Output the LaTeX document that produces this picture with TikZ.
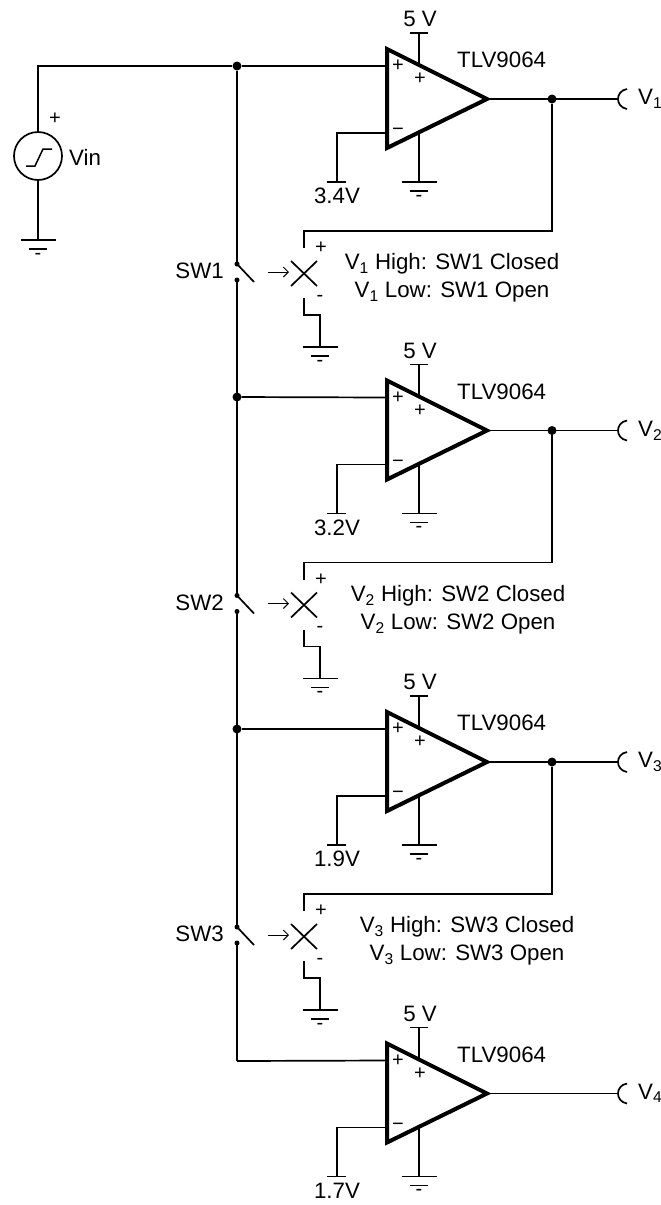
\documentclass[tikz,border=0pt]{standalone}
\usepackage{fontspec}
\setmainfont{Liberation Sans}
\usetikzlibrary{arrows.meta}
\tikzset{
	wire/.style={line width=1.7pt},
	lbl/.style={font=\fontsize{22.3}{28}\selectfont, inner sep=0pt},
	sign/.style={font=\fontsize{20}{20}\selectfont, inner sep=0pt},
	dot/.style={circle, fill=black, inner sep=0pt, minimum size=#1},
	gnd/.pic={
		\draw[wire] (-17.5,0) -- (17.5,0);
		\draw[wire] (-9,9) -- (9,9);
		\node[sign] (-mark) at (0,16) {-};
	}
}
\begin{document}
\begin{tikzpicture}[x=1pt, y=-1pt]
	\useasboundingbox (0,0) rectangle (661,1205);

	% source
	\node[draw, wire, circle, minimum size=48pt, inner sep=0pt] (vin) at (38,156) {};
	\coordinate (vintop) at (38,66);
	\coordinate (vingnd) at (38,240);
	\node[dot=9pt] (rail) at (237,66) {};
	\draw[wire] (vin.north) -- (vintop) -- (rail);
	\draw[wire] (vin.south) -- (vingnd);
	\draw[line width=1.5pt] (26,166) -- (35,166) -- (43,149) -- (52,149);
	\node[sign] (vinplus) at (55,119) {+};
	\node[lbl, anchor=west] (vinlabel) at (69,157) {Vin};
	\pic (gndvin) at (vingnd) {gnd};

	% comparators
	\foreach \n/\vref in {1/3.4V, 2/3.2V, 3/1.9V, 4/1.7V} {
		\begin{scope}[yshift={-331.5pt*(\n-1)}]
			\draw[line width=4pt, miter limit=6] (387,49) -- (487,99) -- (387,148) -- cycle;
			\coordinate (plus\n) at (385,66);
			\coordinate (minus\n) at (385,133);
			\coordinate (tip\n) at (487,99);
			\coordinate (bend\n) at (337,133);
			\coordinate (ref\n) at (337,182);
			\coordinate (suptop\n) at (419,33);
			\coordinate (supbot\n) at (419,65);
			\coordinate (gndtop\n) at (419,132);
			\coordinate (gnd\n) at (419,182);
			\coordinate (cup\n) at (618,99);
			\draw[wire] (minus\n) -- (bend\n) -- (ref\n);
			\draw[wire] (327,182) -- (346,182);
			\draw[wire] (suptop\n) -- (supbot\n);
			\draw[wire] (410,33) -- (428,33);
			\draw[wire] (gndtop\n) -- (gnd\n);
			\draw[wire] (tip\n) -- (cup\n);
			\draw[wire] (627,89) .. controls (615,91) and (615,107) .. (627,109);
			\pic (gndop\n) at (gnd\n) {gnd};
			\node[sign] (inplus\n) at (398,66) {+};
			\node[sign] (supplus\n) at (420,79) {+};
			\node[sign] (inminus\n) at (398,132) {−};
			\node[lbl] (five\n) at (420,19) {5 V};
			\node[lbl] (vref\n) at (337,196) {\vref};
			\node[lbl, anchor=west] (part\n) at (457,60) {TLV9064};
			\node[lbl, anchor=west] (out\n) at (638,99) {V\textsubscript{\n}};
		\end{scope}
	}

	% switches
	\foreach \n/\m/\tx in {1/2/452, 2/3/458, 3/4/467} {
		\begin{scope}[yshift={-331.5pt*(\n-1)}]
			\node[dot=9pt] (tap\n) at (552,99) {};
			\coordinate (fbcorner\n) at (552,231);
			\coordinate (fbleft\n) at (304,231);
			\coordinate (fbend\n) at (304,248);
			\draw[wire] (tap\n) -- (fbcorner\n) -- (fbleft\n) -- (fbend\n);
			\draw[wire] (291,261) -- (317,286) (317,261) -- (291,286);
			\draw[line width=1pt, -{Straight Barb[length=5pt, width=10pt]}] (268,272) -- (289,272);
			\node[sign] (swplus\n) at (321,248) {+};
			\node[sign] (swminus\n) at (320,298) {-};
			\coordinate (lowa\n) at (304,298);
			\coordinate (lowb\n) at (304,315);
			\coordinate (lowc\n) at (320,315);
			\coordinate (lowd\n) at (320,347);
			\draw[wire] (lowa\n) -- (lowb\n) -- (lowc\n) -- (lowd\n);
			\pic (gndsw\n) at (lowd\n) {gnd};
			\node[dot=5pt] (swa\n) at (237,264) {};
			\node[dot=5pt] (swb\n) at (237,280) {};
			\coordinate (blade\n) at (254,282);
			\draw[wire] (swa\n.center) -- (blade\n);
			\node[lbl, anchor=east] (swlabel\n) at (224,271) {SW\n};
			\node[lbl, align=center] (note\n) at (\tx,278) {V\textsubscript{\n} High: SW\n{} Closed\\V\textsubscript{\n} Low: SW\n{} Open};
		\end{scope}
	}

	% rail
	\node[dot=9pt] (join2) at (237,397) {};
	\node[dot=9pt] (join3) at (237,729) {};
	\coordinate (join4) at (237,1061);
	\draw[wire] (rail) -- (swa1.center);
	\draw[wire] (swb1.center) -- (join2.center) -- (swa2.center);
	\draw[wire] (swb2.center) -- (join3.center) -- (swa3.center);
	\draw[wire] (swb3.center) -- (join4);
	\draw[wire] (rail) -- (plus1);
	\draw[wire] (join2) -- (plus2);
	\draw[wire] (join3) -- (plus3);
	\draw[wire] (join4) -- (plus4);
\end{tikzpicture}
\end{document}
